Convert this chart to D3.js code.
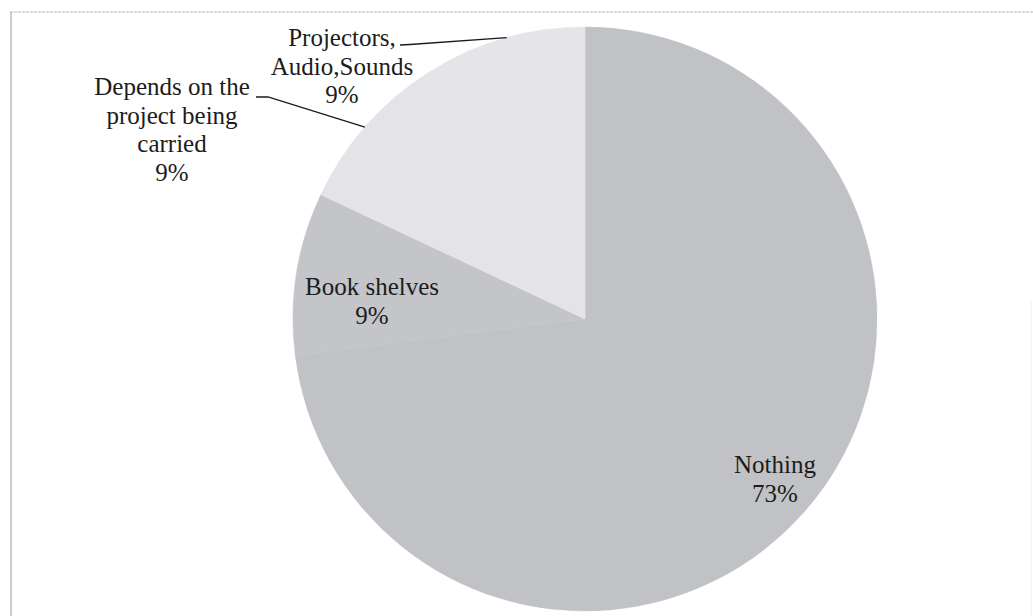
<!DOCTYPE html>
<html>
<head>
<meta charset="utf-8">
<script src="https://cdn.jsdelivr.net/npm/d3@7"></script>
<style>
  html, body { margin: 0; padding: 0; background: #ffffff; }
  svg { display: block; }
</style>
</head>
<body>
<svg id="chart" width="1033" height="616"></svg>
<script>
// ---- data ----
const categories = ["Nothing", "Book shelves", "Depends on the project being carried", "Projectors, Audio,Sounds"];
const values = [73, 9, 9, 9];
const labelLines = [
  ["Nothing", "73%"],
  ["Book shelves", "9%"],
  ["Depends on the", "project being", "carried", "9%"],
  ["Projectors,", "Audio,Sounds", "9%"]
];
const colors = ["#c1c2c6", "#c4c5c8", "#e4e4e8", "#e5e5e9"];

// ---- layout (not data) ----
const W = 1033, H = 616;
const cx = 585, cy = 319, R = 292;
const labelPos = [[775, 473], [372, 295], [172, 95], [342, 46]];
const leaderStart = { 2: [[256, 97], [268, 97]], 3: [[400, 45], [410, 44.5]] };
const leaderFrac = { 2: 0.49, 3: 0.52 };
const lineStep = 28.5;

const svg = d3.select("#chart");

// frame
svg.append("line").attr("x1", 10).attr("y1", 12).attr("x2", W).attr("y2", 12)
  .attr("stroke", "#b8b8b8").attr("stroke-width", 1).attr("stroke-dasharray", "3,1");
svg.append("line").attr("x1", 11).attr("y1", 12).attr("x2", 11).attr("y2", H)
  .attr("stroke", "#9a9a9a").attr("stroke-width", 1);
svg.append("line").attr("x1", W - 2).attr("y1", 300).attr("x2", W - 2).attr("y2", H)
  .attr("stroke", "#f0f0f0").attr("stroke-width", 1);

const data = categories.map((c, i) => ({ name: c, value: values[i], i }));
const pie = d3.pie().value(d => d.value).sort(null).startAngle(0).endAngle(2 * Math.PI);
const arcs = pie(data);
const arc = d3.arc().innerRadius(0).outerRadius(R);

const g = svg.append("g").attr("transform", `translate(${cx},${cy})`);
g.selectAll("path.slice").data(arcs).join("path")
  .attr("class", "slice")
  .attr("d", arc)
  .attr("fill", (d, i) => colors[i])
  .attr("stroke", (d, i) => colors[i])
  .attr("stroke-width", 0.5);

// leader lines
arcs.forEach((d, i) => {
  if (!leaderStart[i]) return;
  const ang = d.startAngle + (d.endAngle - d.startAngle) * leaderFrac[i];
  const ex = cx + R * Math.sin(ang), ey = cy - R * Math.cos(ang);
  const pts = leaderStart[i].concat([[ex, ey]]);
  svg.append("path")
    .attr("d", d3.line()(pts))
    .attr("fill", "none")
    .attr("stroke", "#1a1a1a")
    .attr("stroke-width", 1.3);
});

// labels
labelLines.forEach((lines, i) => {
  const t = svg.append("text")
    .attr("x", labelPos[i][0])
    .attr("y", labelPos[i][1])
    .attr("text-anchor", "middle")
    .attr("font-family", "'Liberation Serif', 'Times New Roman', serif")
    .attr("font-size", 25)
    .attr("fill", "#1c1c1c");
  lines.forEach((ln, k) => {
    t.append("tspan").attr("x", labelPos[i][0]).attr("y", labelPos[i][1] + k * lineStep).text(ln);
  });
});
</script>
</body>
</html>
